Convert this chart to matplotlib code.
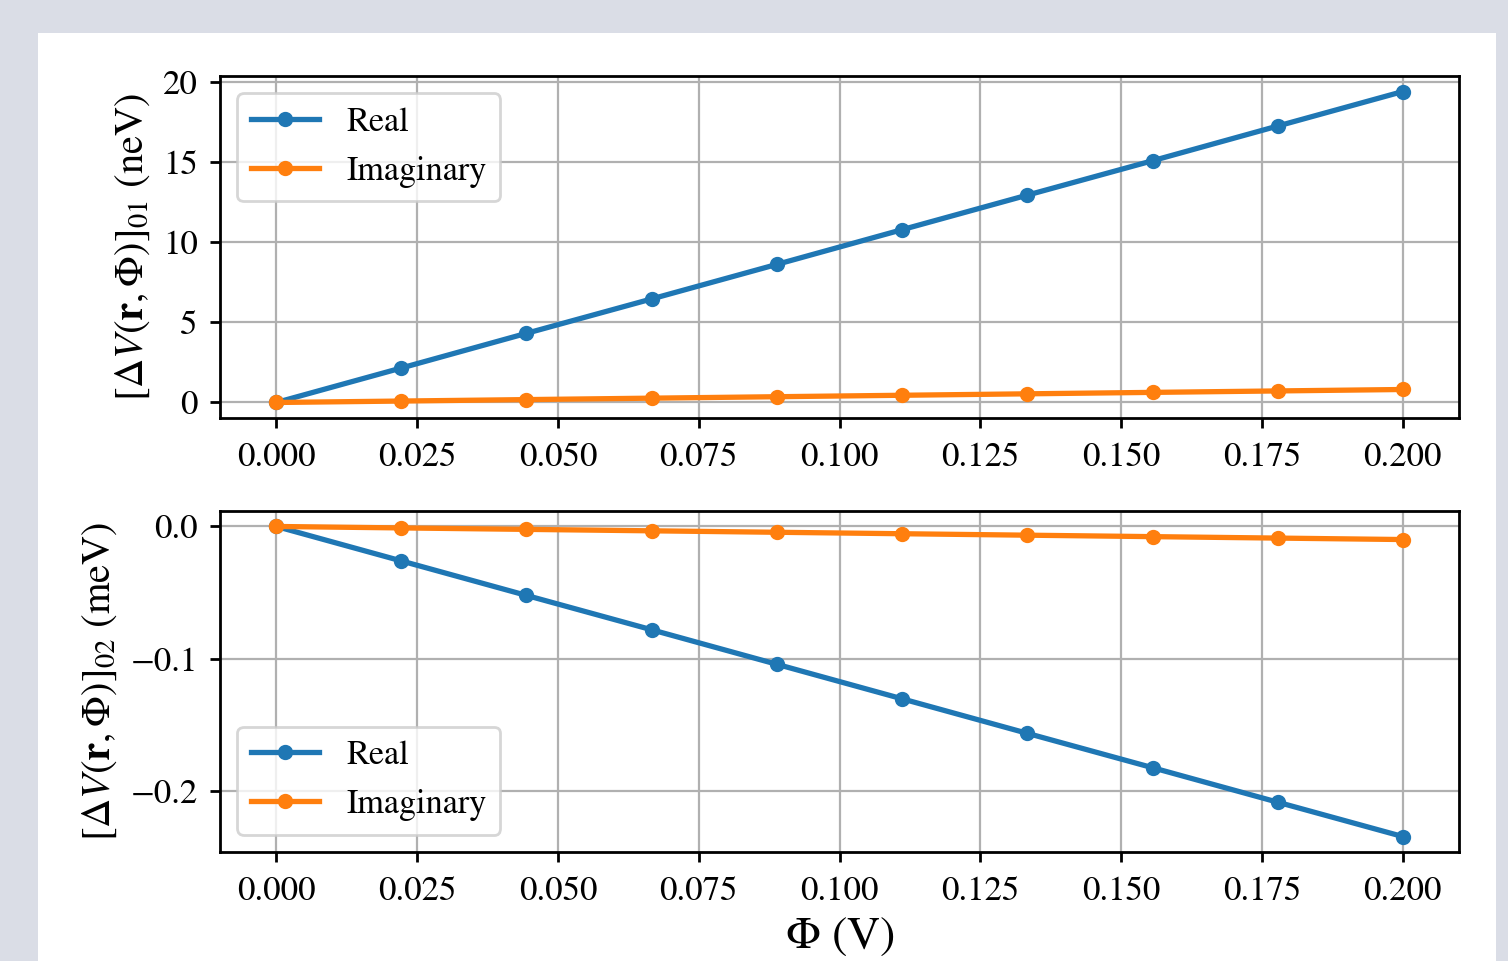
import numpy as np
import matplotlib
matplotlib.use("Agg")
import matplotlib.pyplot as plt
from matplotlib.patches import Rectangle

# values
phi = [0.0, 0.0222, 0.0444, 0.0667, 0.0889, 0.1111, 0.1333, 0.1556, 0.1778, 0.2]
dv01_real = [0.0, 2.15, 4.31, 6.46, 8.61, 10.77, 12.92, 15.07, 17.23, 19.38]
dv01_imag = [0.0, 0.09, 0.18, 0.27, 0.36, 0.45, 0.54, 0.63, 0.72, 0.81]
dv02_real = [0.0, -0.0261, -0.0522, -0.0783, -0.1044, -0.1305, -0.1566, -0.1827, -0.2088, -0.2348]
dv02_imag = [0.0, -0.0011, -0.0022, -0.0033, -0.0044, -0.0055, -0.0066, -0.0077, -0.0088, -0.0099]

plt.rcParams['font.family'] = ['STIXGeneral', 'Liberation Serif', 'DejaVu Serif']
plt.rcParams['mathtext.fontset'] = 'stix'
plt.rcParams['font.size'] = 12.5
plt.rcParams['axes.linewidth'] = 1.0
plt.rcParams['xtick.major.width'] = 1.0
plt.rcParams['ytick.major.width'] = 1.0
plt.rcParams['xtick.major.pad'] = 5.0
plt.rcParams['ytick.major.pad'] = 4.5

fig = plt.figure(figsize=(7.54, 4.805), dpi=200, facecolor='#dadde6')
# white card behind the plot
fig.add_artist(Rectangle((0.0252, 0.0), 0.9668, 0.9657, transform=fig.transFigure,
                         facecolor='white', edgecolor='none', zorder=-10))

ax1 = fig.add_axes([0.1459, 0.565, 0.8216, 0.3559])
ax2 = fig.add_axes([0.1459, 0.1134, 0.8216, 0.3549])

ax1.plot(phi, dv01_real, 'o-', lw=1.9, ms=4.5, label='Real')
ax1.plot(phi, dv01_imag, 'o-', lw=1.9, ms=4.5, label='Imaginary')
ax1.set_ylabel(r'$[\Delta V(\mathbf{r}, \Phi)]_{01}$ (neV)', fontsize=14.6)
ax1.set_yticks([0, 5, 10, 15, 20])
ax1.grid(True)
ax1.legend(loc='upper left', fontsize=12.3)

ax2.plot(phi, dv02_real, 'o-', lw=1.9, ms=4.5, label='Real')
ax2.plot(phi, dv02_imag, 'o-', lw=1.9, ms=4.5, label='Imaginary')
ax2.set_ylabel(r'$[\Delta V(\mathbf{r}, \Phi)]_{02}$ (meV)', fontsize=14.6)
ax2.set_xlabel(r'$\Phi$ (V)', fontsize=16.5, labelpad=3)
ax2.grid(True)
ax2.legend(loc='lower left', fontsize=12.3)

for ax in (ax1, ax2):
    ax.set_xticks([0.0, 0.025, 0.05, 0.075, 0.1, 0.125, 0.15, 0.175, 0.2])
    ax.set_xticklabels(['0.000', '0.025', '0.050', '0.075', '0.100', '0.125', '0.150', '0.175', '0.200'])
    ax.set_facecolor('white')

fig.savefig('out.png', dpi=200, facecolor=fig.get_facecolor())
